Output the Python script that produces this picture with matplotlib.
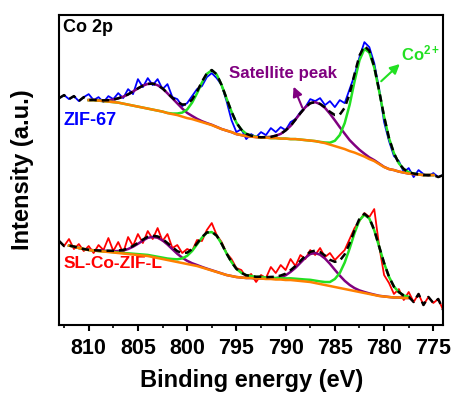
import numpy as np
import matplotlib
matplotlib.use("Agg")
import matplotlib.pyplot as plt
from matplotlib.ticker import MultipleLocator

plt.rcParams["font.family"] = ["Liberation Sans", "DejaVu Sans"]
plt.rcParams["font.weight"] = "bold"
plt.rcParams["mathtext.fontset"] = "custom"
plt.rcParams["mathtext.rm"] = "Liberation Sans:bold"
plt.rcParams["mathtext.bf"] = "Liberation Sans:bold"
plt.rcParams["mathtext.it"] = "Liberation Sans:bold"

# binding energy grid, 813 -> 774 eV in 0.5 eV steps
energy = np.linspace(813, 774, 79)

# ZIF-67 (upper trace), intensity in a.u.
zif67_raw = np.array([
    227, 230, 226, 229, 224, 228, 231, 225, 228, 223,
    229, 226, 232, 227, 236, 231, 246, 238, 247, 240,
    246, 236, 241, 228, 226, 219, 222, 229, 236, 239,
    248, 252, 247, 240, 224, 205, 193, 196, 186, 191,
    188, 193, 190, 197, 193, 198, 195, 203, 206, 213,
    218, 226, 224, 227, 220, 224, 218, 225, 222, 236,
    250, 268, 283, 278, 262, 236, 203, 184, 169, 164,
    153, 157, 148, 155, 151, 149, 152, 148, 150])
zif67_bg = np.array([
    226, 226, 225.5, 225.5, 225, 225, 225, 225, 224.5, 224,
    223.5, 223, 222.5, 221.5, 220.5, 219.5, 218.5, 217.5, 216.5, 215.5,
    214.5, 213.5, 212, 211, 210, 208.5, 207, 206, 204.5, 203,
    201.5, 200, 198, 196, 194.5, 193, 191, 190, 189, 188.5,
    188, 187.5, 187.5, 187, 187, 186.5, 186.5, 186, 186, 185.5,
    185, 184.5, 184, 183, 182, 180.5, 179, 177.5, 176, 174,
    172.5, 170.5, 168.5, 166, 164, 161, 158, 156, 155, 153.5,
    152.5, 151.5, 151, 150.5, 150, 150, 150, 150, 150])
zif67_co = np.array([
    0, 0, 0, 0, 0, 0, 0, 0, 0, 0,
    0, 0, 0, 0, 0, 0, 0, 0, 0, 0,
    0, 0, 0.2, 0.55, 1.6, 4.0, 8.6, 16.4, 27.3, 39.5,
    49.8, 54.8, 52.6, 44.0, 32.2, 20.5, 11.4, 5.5, 2.3, 0.9,
    0.3, 0.1, 0, 0, 0, 0, 0, 0, 0, 0,
    0, 0, 0, 0.2, 0.6, 1.9, 5.3, 12.6, 26.0, 46.3,
    71.2, 94.3, 107.7, 106.7, 93.6, 72.9, 50.4, 30.9, 16.9, 8.2,
    3.5, 1.3, 0.5, 0.2, 0, 0, 0, 0, 0])
zif67_sat = np.array([
    0, 0, 0, 0, 0, 0, 0.1, 0.2, 0.3, 0.7,
    1.4, 2.5, 4.3, 6.9, 10.2, 14.1, 18.2, 22.0, 24.7, 26.0,
    25.4, 23.2, 19.8, 15.8, 11.7, 8.1, 5.2, 3.2, 1.8, 0.9,
    0.5, 0.3, 0.2, 0.1, 0, 0, 0, 0, 0, 0,
    0, 0.2, 0.5, 1.2, 2.4, 4.7, 8.2, 13.2, 19.5, 26.4,
    32.8, 37.4, 39.0, 38.0, 35.2, 30.9, 25.8, 20.4, 15.4, 11.0,
    7.5, 4.8, 2.9, 1.7, 0.9, 0.5, 0.2, 0, 0, 0,
    0, 0, 0, 0, 0, 0, 0, 0, 0])

# SL-Co-ZIF-L (lower trace)
slco_raw = np.array([
    84, 79, 86, 76, 81, 74, 79, 72, 80, 75,
    87, 74, 83, 72, 88, 79, 91, 82, 94, 86,
    97, 84, 91, 77, 80, 72, 76, 74, 85, 84,
    95, 102, 90, 83, 72, 66, 57, 55, 48, 51,
    43, 50, 47, 58, 52, 60, 55, 66, 59, 70,
    66, 75, 70, 77, 68, 72, 65, 70, 75, 86,
    97, 104, 112, 108, 116, 79, 50, 42, 31, 36,
    25, 33, 23, 31, 20, 28, 22, 26, 15])
slco_bg = np.array([
    81, 80, 79.5, 78.5, 77, 76, 75, 74.5, 74, 73.5,
    73, 72.5, 72, 71.5, 71, 70.5, 70, 69.5, 69, 68,
    67, 66, 65, 64, 63, 62, 61, 60, 59, 57.5,
    56, 54.5, 53, 51.5, 50, 49, 48, 47.5, 47, 47,
    46.5, 46.5, 46, 46, 45.5, 45.5, 45, 45, 44.5, 44,
    43.5, 43, 42, 41, 40, 39, 38, 37, 36, 35,
    34, 33, 32, 31, 30, 29, 28.5, 28, 27.5, 27.5,
    27, 27, 27, 27, 27, 27, 27, 27, 27])
slco_co = np.array([
    0, 0, 0, 0, 0, 0, 0, 0, 0, 0,
    0.3, 0.4, 0.5, 0.6, 0.7, 0.8, 0.9, 1.0, 1.1, 1.2,
    1.3, 1.4, 1.5, 2.0, 2.7, 4.6, 8.2, 14.0, 21.6, 29.8,
    36.2, 38.5, 36.2, 29.8, 21.6, 14.0, 8.2, 4.7, 2.8, 2.0,
    1.7, 1.6, 1.5, 1.5, 1.5, 1.5, 1.6, 1.7, 1.8, 1.9,
    2.0, 2.2, 2.4, 2.6, 3.0, 4.0, 8.0, 15.0, 26.5, 41.5,
    58.0, 71.8, 78.3, 75.5, 64.7, 49.3, 33.4, 20.2, 10.9, 5.4,
    2.5, 1.2, 0.8, 0.6, 0.5, 0.4, 0.3, 0.3, 0.2])
slco_sat = np.array([
    0, 0, 0, 0, 0, 0, 0.2, 0.3, 0.5, 0.8,
    1.0, 1.3, 2.0, 3.0, 5.0, 7.8, 11.2, 14.9, 18.2, 20.1,
    20.3, 18.6, 15.5, 11.8, 8.2, 5.3, 3.2, 1.8, 1.0, 0.6,
    0.4, 0.3, 0.2, 0.1, 0, 0, 0, 0, 0, 0,
    0, 0.2, 0.3, 0.6, 1.2, 2.5, 4.7, 8.1, 12.7, 18.2,
    23.7, 28.0, 30.0, 29.3, 26.5, 22.2, 17.2, 12.4, 8.2, 5.1,
    2.9, 1.6, 1.0, 0.6, 0.4, 0.2, 0.1, 0, 0, 0,
    0, 0, 0, 0, 0, 0, 0, 0, 0])

# first / last grid index covered by the fit
zif67_fit = (6, 76)
slco_fit = (2, 71)

fig = plt.figure(figsize=(4.55, 3.99), dpi=100)
ax = fig.add_axes([0.130, 0.1855, 0.844, 0.7765])

spectra = [
    (zif67_raw, zif67_bg, zif67_co, zif67_sat, zif67_fit, "#0000FF"),
    (slco_raw, slco_bg, slco_co, slco_sat, slco_fit, "#FF0000"),
]
for raw, bg, co, sat, (i0, i1), color in spectra:
    s = slice(i0, i1 + 1)
    ax.plot(energy, raw, color=color, lw=1.3, zorder=1)
    ax.plot(energy[s], (bg + sat)[s], color="#800080", lw=1.8, zorder=2)
    ax.plot(energy[s], (bg + co)[s], color="#22E022", lw=1.8, zorder=3)
    ax.plot(energy[s], bg[s], color="#FF8000", lw=1.8, zorder=4)
    # envelope: fit inside the fitted range, data outside it
    env = raw.astype(float).copy()
    env[s] = (bg + co + sat)[s]
    ax.plot(energy, env, color="k", lw=1.8, ls=(0, (3, 2)), zorder=5)

ax.set_xlim(813, 774)
ax.set_ylim(0, 310)
ax.set_yticks([])
ax.xaxis.set_major_locator(MultipleLocator(5))
ax.xaxis.set_minor_locator(MultipleLocator(2.5))
ax.tick_params(axis="x", which="major", direction="out", length=4.5, width=1.5,
               labelsize=15.5, pad=5)
ax.tick_params(axis="x", which="minor", direction="out", length=2.5, width=1.2)
for sp in ax.spines.values():
    sp.set_linewidth(1.5)

ax.set_xlabel("Binding energy (eV)", fontsize=17, fontweight="bold", labelpad=7)
ax.set_ylabel("Intensity (a.u.)", fontsize=17, fontweight="bold", labelpad=18)

ax.text(812.6, 306, "Co 2p", fontsize=13, va="top", ha="left")
ax.text(812.6, 205, "ZIF-67", color="#0000FF", fontsize=13, va="center")
ax.text(812.6, 62, "SL-Co-ZIF-L", color="#FF0000", fontsize=12.5, va="center")
ax.text(795.7, 252, "Satellite peak", color="#800080", fontsize=12.2, va="center")
ax.text(778.3, 272, r"Co$^{2+}$", color="#22E022", fontsize=12, va="center")

ax.annotate("", xy=(789.3, 241), xytext=(788.2, 215),
            arrowprops=dict(arrowstyle="-|>", color="#800080", lw=1.5,
                            mutation_scale=14))
ax.annotate("", xy=(778.2, 263), xytext=(780.5, 242),
            arrowprops=dict(arrowstyle="-|>", color="#22E022", lw=1.5,
                            mutation_scale=14))

fig.savefig("out.png", dpi=100)
